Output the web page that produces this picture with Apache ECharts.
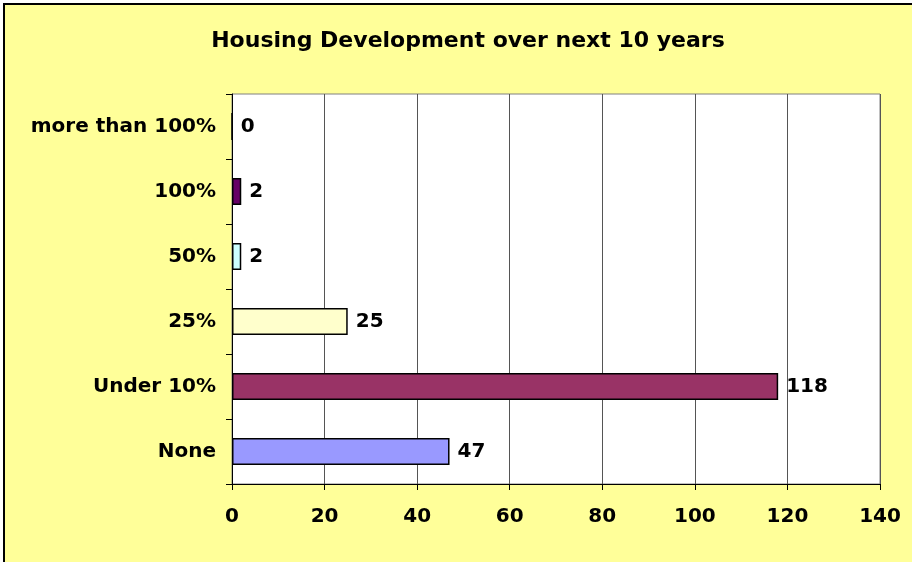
<!DOCTYPE html>
<html>
<head>
<meta charset="utf-8">
<script src="https://cdn.jsdelivr.net/npm/echarts@6/dist/echarts.min.js"></script>
<style>
  html, body { margin: 0; padding: 0; background: #fff; overflow: hidden; width: 912px; height: 562px; }
  #frame { position: absolute; left: 3px; top: 3px; width: 1000px; height: 700px;
           border-left: 2px solid #000; border-top: 2px solid #000; }
  #chart { width: 960px; height: 600px; }
</style>
</head>
<body>
<div id="frame"><div id="chart"></div></div>
<script>
var categories = ['None', 'Under 10%', '25%', '50%', '100%', 'more than 100%'];
var values = [47, 118, 25, 2, 2, 0];
var barColors = ['#9999FF', '#993366', '#FFFFCC', '#CCFFFF', '#660066', '#FF8080'];
var xTicks = { min: 0, max: 140, interval: 20 };

var font = 'DejaVu Sans';
var chart = echarts.init(document.getElementById('chart'));

var option = {
    backgroundColor: '#FFFF99',
    animation: false,
    title: {
        text: 'Housing Development over next 10 years',
        left: 458,
        top: 20,
        textAlign: 'center',
        textStyle: {
            fontFamily: font,
            fontSize: 22,
            fontWeight: 'bold',
            color: '#000'
        }
    },
    grid: {
        left: 227,
        right: 85,
        top: 89,
        bottom: 121,
        show: true,
        backgroundColor: '#fff',
        borderColor: '#808080',
        borderWidth: 1
    },
    xAxis: {
        type: 'value',
        min: xTicks.min,
        max: xTicks.max,
        interval: xTicks.interval,
        axisLine: { show: true, lineStyle: { color: '#000', width: 1 } },
        axisTick: { show: true, length: 6, lineStyle: { color: '#000' } },
        splitLine: { show: true, lineStyle: { color: '#555', width: 1 } },
        axisLabel: {
            margin: 23,
            fontFamily: font,
            fontSize: 20,
            fontWeight: 'bold',
            color: '#000'
        }
    },
    yAxis: {
        type: 'category',
        data: categories,
        axisLine: { show: true, lineStyle: { color: '#000', width: 1 } },
        axisTick: { show: true, length: 6, alignWithLabel: false, lineStyle: { color: '#000' } },
        axisLabel: {
            margin: 16,
            fontFamily: font,
            fontSize: 20,
            fontWeight: 'bold',
            color: '#000'
        }
    },
    series: [
        {
            type: 'bar',
            barWidth: 27,
            data: values.map(function (v, i) {
                return {
                    value: v,
                    itemStyle: { color: barColors[i], borderColor: '#000', borderWidth: 1.5 }
                };
            }),
            label: {
                show: true,
                position: 'right',
                distance: 8,
                fontFamily: font,
                fontSize: 20,
                fontWeight: 'bold',
                color: '#000'
            }
        }
    ]
};

chart.setOption(option);
window.addEventListener('resize', function () {
    chart.resize();
});
</script>
</body>
</html>
